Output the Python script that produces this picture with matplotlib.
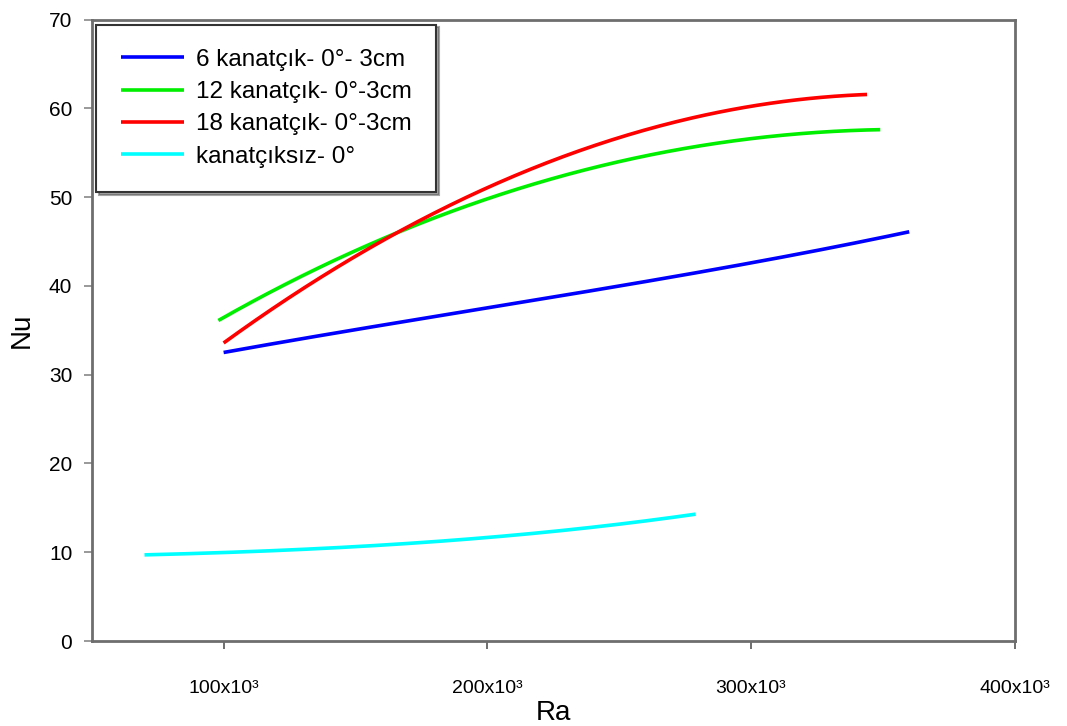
import matplotlib

matplotlib.use("Agg")
import matplotlib.pyplot as plt
import numpy as np

plt.rcParams["font.family"] = ["Liberation Sans", "DejaVu Sans"]

# Ra values and Nu readings for each series
ra_6 = [100e3, 150e3, 200e3, 250e3, 300e3, 360e3]
nu_6 = [32.5, 35.1, 37.5, 40.0, 42.6, 46.1]

ra_12 = [98e3, 120e3, 138e3, 160e3, 185e3, 200e3, 250e3, 300e3, 349e3]
nu_12 = [36.1, 39.6, 42.5, 45.1, 48.3, 49.8, 54.0, 56.6, 57.6]

ra_18 = [100e3, 120e3, 138e3, 158e3, 180e3, 200e3, 250e3, 300e3, 344e3]
nu_18 = [33.8, 37.6, 40.6, 45.1, 48.4, 51.1, 56.6, 60.2, 61.6]

ra_0 = [70e3, 100e3, 130e3, 160e3, 200e3, 240e3, 279e3]
nu_0 = [9.7, 10.0, 10.3, 10.8, 11.7, 12.8, 14.3]

labels = [
    "6 kanatçık- 0°- 3cm",
    "12 kanatçık- 0°-3cm",
    "18 kanatçık- 0°-3cm",
    "kanatçıksız- 0°",
]
colors = ["#0000ff", "#00ee00", "#ff0000", "#00ffff"]

x_ticks = [100e3, 200e3, 300e3, 400e3]
x_ticklabels = ["100x10³", "200x10³", "300x10³", "400x10³"]
y_ticks = [0, 10, 20, 30, 40, 50, 60, 70]


def smooth(x, y, n=200):
    coef = np.polyfit(x, y, 3)
    xs = np.linspace(min(x), max(x), n)
    return xs, np.polyval(coef, xs)


fig = plt.figure(figsize=(10.67, 7.26), dpi=100)
ax = fig.add_axes([0.086, 0.117, 0.865, 0.856])

for (x, y), lab, col in zip(
    [(ra_6, nu_6), (ra_12, nu_12), (ra_18, nu_18), (ra_0, nu_0)], labels, colors
):
    xs, ys = smooth(x, y)
    ax.plot(xs, ys, color=col, linewidth=2.6, label=lab, solid_capstyle="butt")

ax.set_xlim(50e3, 400e3)
ax.set_ylim(0, 70)
ax.set_xticks(x_ticks)
ax.set_xticklabels(x_ticklabels)
ax.set_yticks(y_ticks)
ax.tick_params(axis="x", labelsize=14, length=6, width=1.2, pad=22, color="#555555")
ax.tick_params(axis="y", labelsize=15, length=6, width=1.2, pad=8, color="#888888")
for lbl in ax.get_xticklabels():
    lbl.set_fontstretch("condensed")
ax.set_xlabel("Ra", fontsize=20, labelpad=2)
ax.set_ylabel("Nu", fontsize=20, labelpad=10)
for spine in ax.spines.values():
    spine.set_linewidth(2.0)
    spine.set_color("#6e6e6e")

leg = ax.legend(
    loc="upper left",
    bbox_to_anchor=(0.005, 0.992),
    borderaxespad=0.0,
    fontsize=17.5,
    frameon=True,
    fancybox=False,
    shadow=True,
    edgecolor="#333333",
    framealpha=1.0,
    handlelength=2.6,
    handletextpad=0.5,
    labelspacing=0.42,
    borderpad=1.0,
)
leg.get_frame().set_linewidth(1.5)

fig.savefig("out.png", dpi=100)
